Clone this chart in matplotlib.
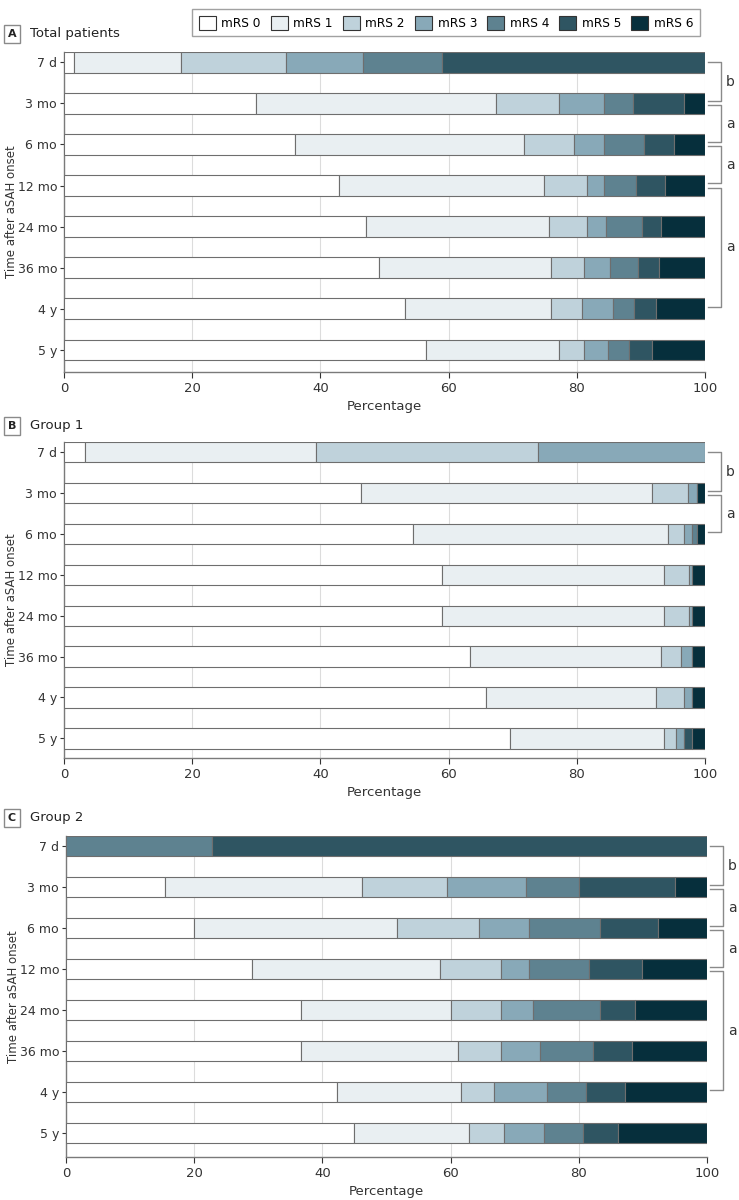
import numpy as np
import matplotlib.pyplot as plt
from matplotlib.patches import Patch
import matplotlib.transforms as mtransforms

plt.rcParams['font.family'] = ['DejaVu Sans Condensed', 'Liberation Sans Narrow', 'DejaVu Sans']

times = ['7 d', '3 mo', '6 mo', '12 mo', '24 mo', '36 mo', '4 y', '5 y']
levels = ['mRS 0', 'mRS 1', 'mRS 2', 'mRS 3', 'mRS 4', 'mRS 5', 'mRS 6']
colors = ['#ffffff', '#e9eff2', '#bfd2db', '#88a9b8', '#5e8290', '#2f5562', '#062f3c']

# percent of patients, rows = time points, columns = mRS 0..6
total = [
    [1.5, 16.8, 16.3, 12.1, 12.2, 41.1, 0.0],
    [29.9, 37.5, 9.8, 7.1, 4.4, 8.0, 3.3],
    [36.1, 35.6, 7.9, 4.7, 6.2, 4.7, 4.8],
    [42.9, 32.0, 6.7, 2.7, 5.0, 4.4, 6.3],
    [47.1, 28.6, 5.9, 3.0, 5.6, 3.0, 6.8],
    [49.1, 26.9, 5.1, 4.1, 4.4, 3.2, 7.2],
    [53.2, 22.8, 4.8, 4.9, 3.3, 3.3, 7.7],
    [56.5, 20.7, 3.9, 3.8, 3.3, 3.5, 8.3],
]
group1 = [
    [3.2, 36.1, 34.7, 26.0, 0.0, 0.0, 0.0],
    [46.3, 45.5, 5.6, 1.3, 0.0, 0.0, 1.3],
    [54.4, 39.9, 2.5, 1.1, 0.8, 0.0, 1.3],
    [58.9, 34.7, 3.9, 0.5, 0.0, 0.0, 2.0],
    [58.9, 34.7, 3.9, 0.5, 0.0, 0.0, 2.0],
    [63.3, 29.8, 3.1, 1.8, 0.0, 0.0, 2.0],
    [65.8, 26.6, 4.4, 1.2, 0.0, 0.0, 2.0],
    [69.6, 24.0, 1.9, 1.3, 0.0, 1.2, 2.0],
]
group2 = [
    [0.0, 0.0, 0.0, 0.0, 22.7, 77.3, 0.0],
    [15.5, 30.6, 13.3, 12.3, 8.3, 15.0, 5.0],
    [20.0, 31.7, 12.7, 7.9, 11.0, 9.0, 7.7],
    [29.0, 29.3, 9.5, 4.5, 9.3, 8.3, 10.1],
    [36.6, 23.4, 7.8, 5.0, 10.5, 5.5, 11.2],
    [36.6, 24.5, 6.7, 6.1, 8.3, 6.1, 11.7],
    [42.2, 19.5, 5.0, 8.3, 6.1, 6.1, 12.8],
    [45.0, 17.8, 5.5, 6.2, 6.1, 5.5, 13.9],
]

# significance brackets: (from row, to row, letter)
brackets_full = [(0, 1, 'b'), (1, 2, 'a'), (2, 3, 'a'), (3, 6, 'a')]
brackets_g1 = [(0, 1, 'b'), (1, 2, 'a')]

W, H = 739, 1200
fig = plt.figure(figsize=(W / 100, H / 100), dpi=100)


def px_axes(left, top, right, bottom):
    return fig.add_axes([left / W, 1 - bottom / H, (right - left) / W, (bottom - top) / H])


def panel(ax, data, brackets, bottom_pad):
    data = np.array(data)
    y = np.arange(len(times))
    left = np.zeros(len(times))
    for j in range(len(levels)):
        vals = data[:, j]
        m = vals > 0
        ax.barh(y[m], vals[m], left=left[m], height=0.5, color=colors[j],
                edgecolor='#6e6e6e', linewidth=0.8, zorder=3)
        left = left + vals
    ax.set_xlim(0, 100)
    ax.set_ylim(len(times) - 1 + bottom_pad, -0.25)
    ax.set_yticks(y)
    ax.set_yticklabels(times, fontsize=9)
    ax.set_xticks([0, 20, 40, 60, 80, 100])
    ax.tick_params(axis='x', labelsize=9.5, colors='#333333', length=4, width=0.8, pad=3)
    ax.tick_params(axis='y', colors='#333333', length=3, width=0.8, pad=2)
    ax.xaxis.grid(True, color='#dcdcdc', linewidth=0.8, zorder=0)
    ax.set_axisbelow(True)
    for s in ['top', 'right']:
        ax.spines[s].set_visible(False)
    for s in ['left', 'bottom']:
        ax.spines[s].set_color('#7a7a7a')
        ax.spines[s].set_linewidth(1.0)
    ax.set_xlabel('Percentage', fontsize=9.5, color='#333333', labelpad=4)
    ax.set_ylabel('Time after aSAH onset', fontsize=8.5, color='#333333',
                  family='DejaVu Sans')
    ax.yaxis.set_label_coords(-0.072, 0.5)

    tr = mtransforms.blended_transform_factory(ax.transAxes, ax.transData)
    for s, e, letter in brackets:
        y0 = s + (0.05 if s > 0 else 0)
        y1 = e - 0.05
        ax.plot([1.005, 1.025, 1.025, 1.005], [y0, y0, y1, y1], transform=tr,
                color='#8a8a8a', linewidth=1.0, clip_on=False)
        ax.text(1.039, (y0 + y1) / 2, letter, transform=tr, fontsize=10,
                ha='center', va='center', color='#333333', clip_on=False)


def panel_title(letter, text, ypx):
    fig.text(12 / W, 1 - ypx / H, letter, fontsize=8, fontweight='bold',
             family='DejaVu Sans', ha='center', va='center', color='#222222',
             bbox=dict(boxstyle='square,pad=0.35', fc='white', ec='#8a8a8a', lw=1.0))
    fig.text(30 / W, 1 - ypx / H, text, fontsize=9.5, ha='left', va='center',
             color='#222222')


ax1 = px_axes(64, 52, 705, 372)
panel(ax1, total, brackets_full, 0.54)
ax2 = px_axes(64, 442, 705, 758)
panel(ax2, group1, brackets_g1, 0.48)
ax3 = px_axes(66, 836, 707, 1157)
panel(ax3, group2, brackets_full, 0.58)

panel_title('A', 'Total patients', 34)
panel_title('B', 'Group 1', 426)
panel_title('C', 'Group 2', 818)

handles = [Patch(facecolor=c, edgecolor='#333333', linewidth=0.8) for c in colors]
fig.legend(handles, levels, loc='upper right', bbox_to_anchor=(706 / W, 1 - 3 / H),
           ncol=7, fontsize=8.7, frameon=True, fancybox=False, edgecolor='#8a8a8a',
           handlelength=1.4, handleheight=1.4, handletextpad=0.45, columnspacing=0.85,
           borderpad=0.55)

fig.savefig('out.png', dpi=100)
